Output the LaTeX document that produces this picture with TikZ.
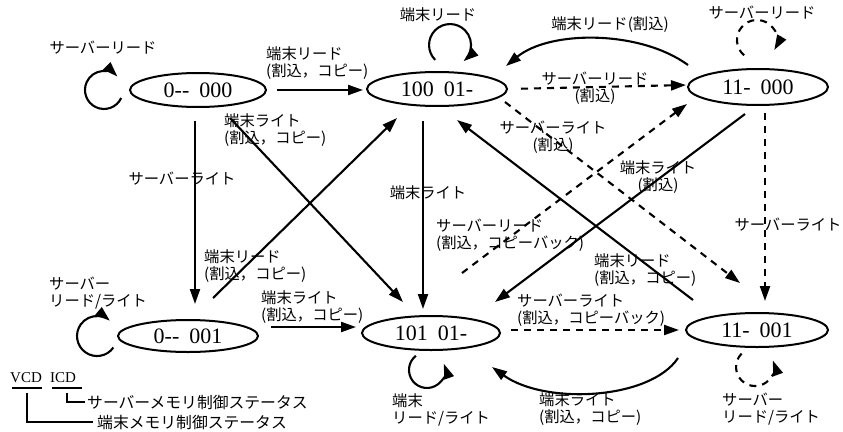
\documentclass[tikz,border=0pt]{standalone}
\usepackage{fontspec}
\setmainfont{Liberation Serif}
\newfontfamily\jp{Noto Sans CJK JP}
\usetikzlibrary{arrows.meta,shapes.geometric}
\begin{document}
\begin{tikzpicture}[x=1pt,y=-1pt,
  st/.style={ellipse,draw,line width=2pt,inner sep=0pt,font=\fontsize{22}{22}\selectfont},
  arr/.style={line width=2.1pt,-{Triangle[length=15pt,width=10pt]}},
  darr/.style={arr,dash pattern=on 7pt off 6pt},
  lbl/.style={font=\jp\fontsize{15.3}{16.5}\selectfont,inner sep=0pt},
  leg/.style={font=\jp\fontsize{15.8}{16}\selectfont,inner sep=0pt,anchor=west},
  legline/.style={line width=1.4pt}]
\useasboundingbox (0,0) rectangle (843,431);
\fill[white] (0,0) rectangle (843,431);

% states
\node[st,minimum width=136pt,minimum height=34pt] (e1) at (198,90) {0-{}-\hspace{0.45em}000};
\node[st,minimum width=140pt,minimum height=34pt] (e2) at (437,89) {100\hspace{0.45em}01-};
\node[st,minimum width=140pt,minimum height=36pt] (e3) at (758,87) {11-\hspace{0.45em}000};
\node[st,minimum width=140pt,minimum height=32pt] (e4) at (188,336) {0-{}-\hspace{0.45em}001};
\node[st,minimum width=138pt,minimum height=34pt] (e5) at (431,333) {101\hspace{0.45em}01-};
\node[st,minimum width=142pt,minimum height=34pt] (e6) at (757,330) {11-\hspace{0.45em}001};

% self loops
\draw[arr] ([shift={(-76.8,8)}]e1.center) arc[start angle=25,end angle=315,radius=19];
\draw[arr] ([shift={(-1.8,-29.1)}]e2.center) arc[start angle=135,end angle=410,radius=21];
\draw[darr] ([shift={(-13.9,-31.7)}]e3.center) arc[start angle=130,end angle=390,radius=20];
\draw[arr] ([shift={(-74.6,11.5)}]e4.center) arc[start angle=35,end angle=310,radius=20];
\draw[arr] ([shift={(-15.1,22.8)}]e5.center) arc[start angle=232,end angle=-20,radius=18];
\draw[darr] ([shift={(-15.4,23.6)}]e6.center) arc[start angle=225,end angle=-20,radius=19];

% straight transitions
\draw[arr,shorten <=10pt,shorten >=3pt] (e1.east) -- ([yshift=-1pt]e2.west);
\draw[darr,shorten <=13pt,shorten >=1pt] (e2.east) -- ([yshift=2pt]e3.west);
\draw[arr,shorten <=13pt,shorten >=15pt] ([xshift=-3pt]e1.south) -- ([xshift=7pt]e4.north);
\draw[arr,shorten <=14pt,shorten >=6pt] ([xshift=-14pt]e2.south) -- ([xshift=-8pt]e5.north);
\draw[darr,shorten <=7pt,shorten >=11pt] ([xshift=7pt]e3.south) -- ([xshift=8pt]e6.north);
\draw[arr,shorten <=12pt,shorten >=5pt] ([yshift=9pt]e4.east) -- ([yshift=6pt]e5.west);
\draw[darr,shorten <=10pt,shorten >=6pt] ([yshift=3pt]e5.east) -- (e6.west);

% diagonals
\draw[arr] ([shift={(25,-38)}]e4.center) -- ([shift={(-40,29)}]e2.center);
\draw[arr] ([shift={(32,28)}]e1.center) -- ([shift={(-28,-31)}]e5.center);
\draw[arr] ([shift={(-13,27)}]e3.center) -- ([shift={(64,-31)}]e5.center);
\draw[arr] ([shift={(-64,-30)}]e6.center) -- ([shift={(20,31)}]e2.center);
\draw[darr] ([shift={(31,-60)}]e5.center) -- ([shift={(-71,17)}]e3.center);
\draw[darr] ([shift={(68,13)}]e2.center) -- ([shift={(-17,-47)}]e6.center);

% curves
\draw[arr] ([shift={(-70,-22)}]e3.center) .. controls (640,30) and (550,30) .. ([shift={(69,-23)}]e2.center);
\draw[arr] ([shift={(-79,28)}]e6.center) .. controls (650,400) and (545,405) .. ([shift={(61,34)}]e5.center);

% labels
\node[lbl] (l1) at (103,48) {サーバーリード};
\node[lbl,align=left,anchor=west] (l2) at (266,63) {端末リード\\(割込，コピー)};
\node[lbl] (l3) at (438,15) {端末リード};
\node[lbl] (l4) at (610,25) {端末リード(割込)};
\node[lbl,align=center] (l5) at (595,88) {サーバーリード\\(割込)};
\node[lbl] (l6) at (762,13) {サーバーリード};
\node[lbl,align=left,anchor=west] (l7) at (224,130) {端末ライト\\(割込，コピー)};
\node[lbl] (l8) at (182,179) {サーバーライト};
\node[lbl] (l9) at (428,193) {端末ライト};
\node[lbl,align=center] (l10) at (553,137) {サーバーライト\\(割込)};
\node[lbl,align=center] (l11) at (658,177) {端末ライト\\(割込)};
\node[lbl] (l12) at (788,225) {サーバーライト};
\node[lbl,align=left,anchor=west] (l13) at (436,235) {サーバーリード\\(割込，コピーバック)};
\node[lbl,align=left,anchor=west] (l14) at (204,266) {端末リード\\(割込，コピー)};
\node[lbl,align=left,anchor=west] (l15) at (594,270) {端末リード\\(割込，コピー)};
\node[lbl,align=left,anchor=west] (l16) at (49,293) {サーバー\\リード/ライト};
\node[lbl,align=left,anchor=west] (l17) at (261,307) {端末ライト\\(割込，コピー)};
\node[lbl,align=left,anchor=west] (l18) at (517,310) {サーバーライト\\(割込，コピーバック)};
\node[lbl,align=left,anchor=west] (l19) at (392,410) {端末\\リード/ライト};
\node[lbl,align=left,anchor=west] (l20) at (539,409) {端末ライト\\(割込，コピー)};
\node[lbl,align=left,anchor=west] (l21) at (722,409) {サーバー\\リード/ライト};

% legend
\node[font=\fontsize{15}{15}\selectfont,inner sep=0pt,anchor=west] (vcd) at (10,378) {VCD};
\node[font=\fontsize{15}{15}\selectfont,inner sep=0pt,anchor=west] (icd) at (50,378) {ICD};
\node[leg] (svr) at (87,402) {サーバーメモリ制御ステータス};
\node[leg] (term) at (97,422) {端末メモリ制御ステータス};
\coordinate (vu) at (27,388);
\coordinate (iu) at (67,388);
\draw[legline] (12,388) -- (42,388);
\draw[legline] (52,388) -- (82,388);
\draw[legline] ([yshift=-5pt]vu) |- ([xshift=-4pt]term.west);
\draw[legline] ([yshift=-5pt]iu) |- ([xshift=-2pt]svr.west);
\end{tikzpicture}
\end{document}
